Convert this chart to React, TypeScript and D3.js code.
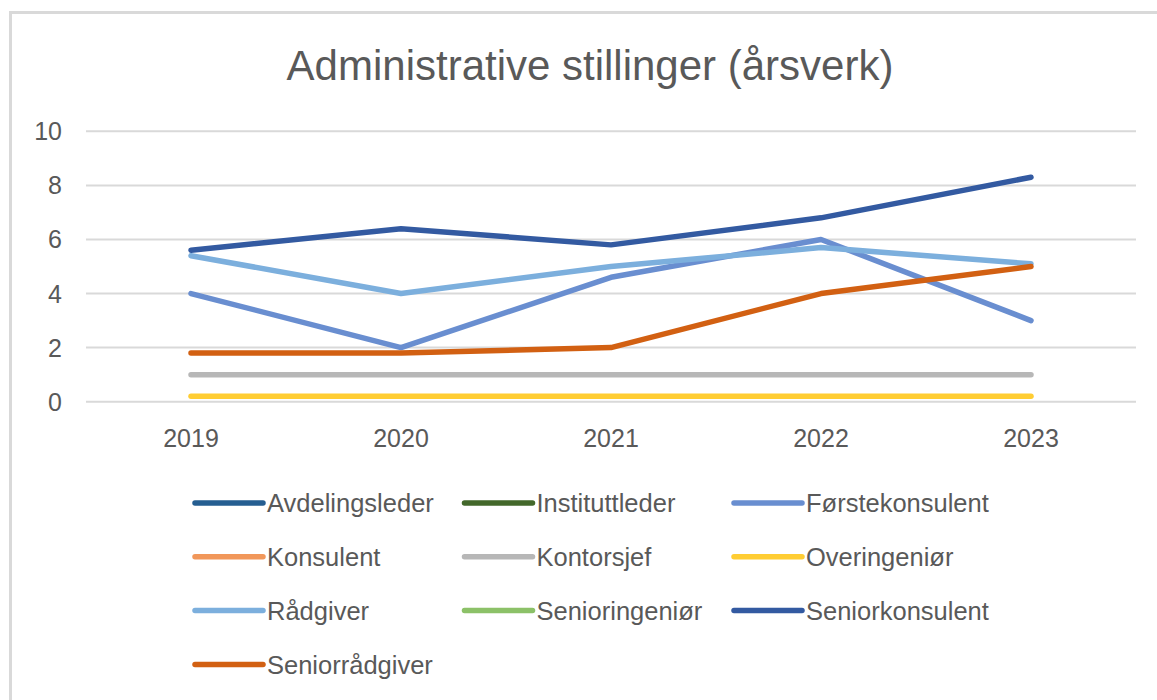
import { useRef, useEffect } from "react";
import * as d3 from "d3";

// årsverk per stilling, 2019-2023 (null = no line drawn)
const years = ["2019", "2020", "2021", "2022", "2023"];
const yTicks = [0, 2, 4, 6, 8, 10];

const avdelingsleder = [null, null, null, null, null];
const instituttleder = [null, null, null, null, null];
const forstekonsulent = [4, 2, 4.6, 6, 3];
const konsulent = [null, null, null, null, null];
const kontorsjef = [1, 1, 1, 1, 1];
const overingenior = [0.2, 0.2, 0.2, 0.2, 0.2];
const radgiver = [5.4, 4, 5, 5.7, 5.1];
const senioringenior = [null, null, null, null, null];
const seniorkonsulent = [5.6, 6.4, 5.8, 6.8, 8.3];
const seniorradgiver = [1.8, 1.8, 2, 4, 5];

const seriesNames = [
  "Avdelingsleder", "Instituttleder", "Førstekonsulent", "Konsulent", "Kontorsjef",
  "Overingeniør", "Rådgiver", "Senioringeniør", "Seniorkonsulent", "Seniorrådgiver",
];
const seriesValues = [
  avdelingsleder, instituttleder, forstekonsulent, konsulent, kontorsjef,
  overingenior, radgiver, senioringenior, seniorkonsulent, seniorradgiver,
];
const seriesColors = [
  "#255E91", "#43682B", "#698ED0", "#F1975A", "#B7B7B7",
  "#FFCD33", "#7CAFDD", "#8CC168", "#335AA1", "#D26012",
];

export default function App() {
  const svgRef = useRef<SVGSVGElement>(null);

  useEffect(() => {
    const width = 1157;
    const height = 700;
    const font = "'Liberation Sans', Arial, sans-serif";
    const textColor = "#595959";

    const svg = d3.select(svgRef.current)
      .attr("width", width)
      .attr("height", height)
      .style("position", "absolute")
      .style("left", 0)
      .style("top", 0)
      .style("background", "#fff");

    svg.selectAll("*").remove();

    // chart frame
    svg.append("rect")
      .attr("x", 10.5).attr("y", 12.5)
      .attr("width", 1200).attr("height", 800)
      .attr("fill", "#fff")
      .attr("stroke", "#d9d9d9")
      .attr("stroke-width", 3);

    svg.append("text")
      .attr("x", 590).attr("y", 80)
      .attr("text-anchor", "middle")
      .attr("font-family", font)
      .attr("font-size", 42)
      .attr("fill", textColor)
      .text("Administrative stillinger (årsverk)");

    const left = 86, right = 1136, top = 131.3, bottom = 401.7;

    const xScale = d3.scaleBand().domain(years).range([left, right]);
    const yScale = d3.scaleLinear().domain([0, 10]).range([bottom, top]);

    // gridlines + y labels
    const grid = svg.append("g");
    grid.selectAll("line")
      .data(yTicks)
      .join("line")
      .attr("x1", left).attr("x2", right)
      .attr("y1", d => yScale(d)).attr("y2", d => yScale(d))
      .attr("stroke", "#d9d9d9")
      .attr("stroke-width", 2);

    grid.selectAll("text")
      .data(yTicks)
      .join("text")
      .attr("x", 62)
      .attr("y", d => yScale(d))
      .attr("dy", "0.36em")
      .attr("text-anchor", "end")
      .attr("font-family", font)
      .attr("font-size", 25)
      .attr("fill", textColor)
      .text(d => d);

    // x labels
    svg.append("g").selectAll("text")
      .data(years)
      .join("text")
      .attr("x", d => xScale(d)! + xScale.bandwidth() / 2)
      .attr("y", 447)
      .attr("text-anchor", "middle")
      .attr("font-family", font)
      .attr("font-size", 25)
      .attr("fill", textColor)
      .text(d => d);

    const line = d3.line<number | null>()
      .defined(d => d != null)
      .x((_, i) => xScale(years[i])! + xScale.bandwidth() / 2)
      .y(d => yScale(d as number));

    svg.append("g").selectAll("path")
      .data(seriesValues)
      .join("path")
      .attr("d", d => line(d))
      .attr("fill", "none")
      .attr("stroke", (_, i) => seriesColors[i])
      .attr("stroke-width", 5.5)
      .attr("stroke-linecap", "round")
      .attr("stroke-linejoin", "round");

    // legend, 3 columns
    const legend = svg.append("g");
    const items = legend.selectAll("g")
      .data(seriesNames)
      .join("g")
      .attr("transform", (_, i) => `translate(${195 + (i % 3) * 269.5},${503 + Math.floor(i / 3) * 53.8})`);

    items.append("line")
      .attr("x1", 0).attr("x2", 68)
      .attr("stroke", (_, i) => seriesColors[i])
      .attr("stroke-width", 5.5)
      .attr("stroke-linecap", "round");

    items.append("text")
      .attr("x", 72)
      .attr("dy", "0.36em")
      .attr("font-family", font)
      .attr("font-size", 25.5)
      .attr("fill", textColor)
      .text(d => d);
  }, []);

  return <svg ref={svgRef}></svg>;
}
